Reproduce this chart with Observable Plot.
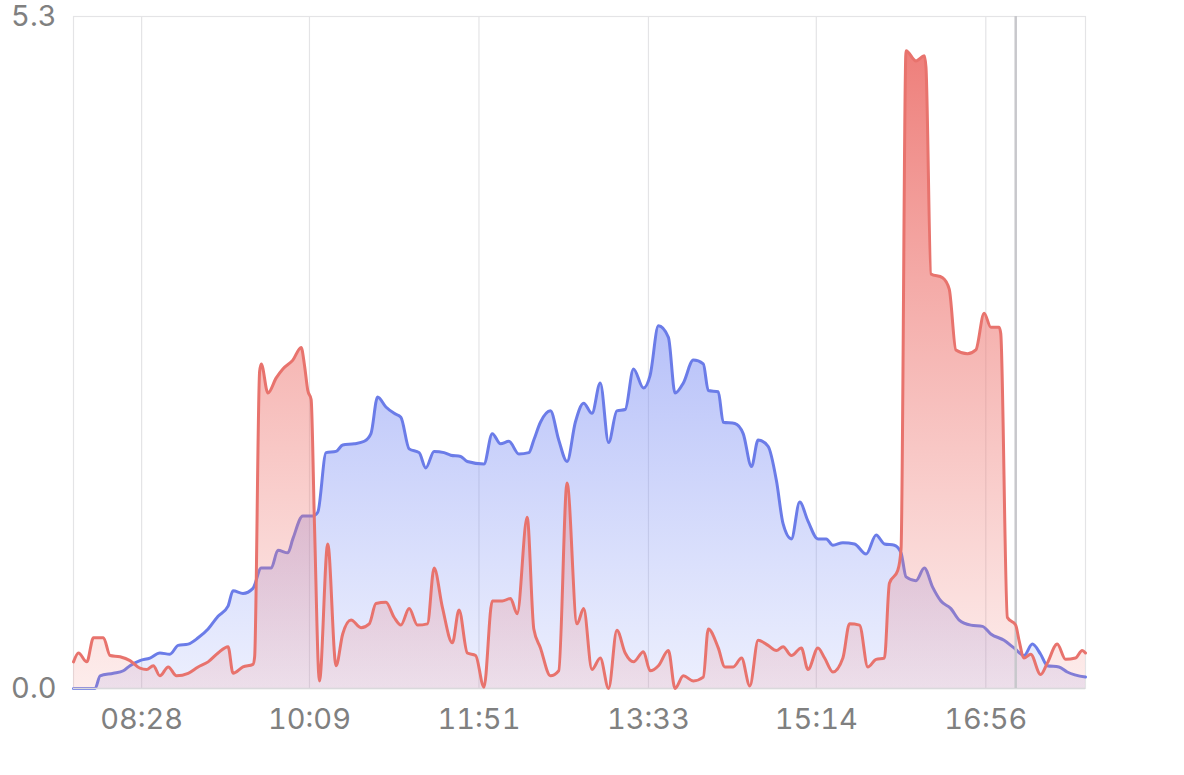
<!DOCTYPE html>
<html>
<head>
<meta charset="utf-8">
<script src="https://cdn.jsdelivr.net/npm/d3@7"></script>
<script src="https://cdn.jsdelivr.net/npm/@observablehq/plot@0.6"></script>
<style>
  html, body { margin: 0; padding: 0; background: #ffffff; }
  #chart { width: 1184px; height: 775px; }
</style>
</head>
<body>
<div id="chart"></div>
<script>
// ---- data ----
const blueTimes = ["07:47","08:00","08:03","08:11","08:17","08:21","08:27","08:33","08:39","08:45","08:50","08:56","09:02","09:08","09:14","09:20","09:23","09:29","09:35","09:40","09:46","09:50","09:56","09:59","10:05","10:11","10:14","10:19","10:25","10:29","10:36","10:42","10:46","10:50","10:55","11:00","11:04","11:09","11:15","11:19","11:24","11:30","11:34","11:40","11:44","11:54","11:59","12:04","12:09","12:15","12:21","12:24","12:28","12:34","12:39","12:44","12:49","12:54","12:59","13:04","13:09","13:14","13:19","13:24","13:30","13:34","13:39","13:45","13:49","13:54","14:00","14:06","14:09","14:15","14:18","14:25","14:30","14:35","14:39","14:45","14:50","14:54","14:59","15:04","15:09","15:15","15:20","15:24","15:30","15:37","15:44","15:50","15:55","16:01","16:05","16:08","16:14","16:19","16:24","16:29","16:35","16:40","16:47","16:54","16:59","17:07","17:13","17:19","17:24","17:29","17:33","17:40","17:45","17:56"];
const blueValues = [0,0,0.10,0.12,0.14,0.18,0.22,0.24,0.28,0.27,0.34,0.35,0.40,0.47,0.57,0.65,0.77,0.75,0.79,0.95,0.95,1.09,1.07,1.18,1.36,1.36,1.39,1.86,1.87,1.92,1.93,1.95,2.01,2.30,2.22,2.17,2.14,1.89,1.86,1.74,1.87,1.86,1.84,1.83,1.79,1.77,2.01,1.93,1.95,1.85,1.86,1.96,2.10,2.19,1.96,1.79,2.10,2.25,2.17,2.41,1.94,2.19,2.20,2.52,2.37,2.47,2.86,2.77,2.33,2.41,2.59,2.56,2.35,2.34,2.10,2.09,2.01,1.75,1.96,1.91,1.64,1.30,1.18,1.47,1.32,1.18,1.18,1.13,1.15,1.14,1.06,1.21,1.14,1.13,1.07,0.88,0.85,0.95,0.80,0.69,0.63,0.54,0.50,0.49,0.43,0.38,0.32,0.26,0.35,0.27,0.18,0.17,0.13,0.09];

const redTimes = ["07:47","07:50","07:55","07:59","08:05","08:09","08:15","08:21","08:27","08:31","08:35","08:39","08:44","08:49","08:56","09:02","09:08","09:14","09:20","09:23","09:29","09:35","09:36","09:39","09:40","09:44","09:49","09:53","09:59","10:04","10:06","10:08","10:10","10:12","10:15","10:20","10:25","10:29","10:34","10:40","10:45","10:49","10:55","11:00","11:04","11:09","11:14","11:20","11:24","11:29","11:35","11:39","11:44","11:49","11:54","11:59","12:05","12:10","12:14","12:20","12:24","12:28","12:34","12:39","12:44","12:50","12:54","12:59","13:04","13:09","13:14","13:19","13:24","13:30","13:34","13:39","13:45","13:49","13:54","14:00","14:06","14:09","14:15","14:19","14:24","14:29","14:34","14:39","14:45","14:50","14:54","14:59","15:05","15:09","15:15","15:19","15:24","15:30","15:34","15:40","15:45","15:50","15:55","15:58","16:03","16:05","16:08","16:14","16:19","16:20","16:23","16:30","16:34","16:38","16:45","16:50","16:55","16:59","17:04","17:05","17:09","17:14","17:16","17:19","17:23","17:29","17:33","17:39","17:44","17:50","17:54","17:56"];
const redValues = [0.21,0.28,0.21,0.40,0.40,0.26,0.25,0.22,0.16,0.15,0.18,0.10,0.17,0.10,0.12,0.17,0.21,0.28,0.33,0.12,0.17,0.19,0.25,2.50,2.56,2.33,2.45,2.52,2.59,2.69,2.55,2.35,2.28,1.30,0.06,1.14,0.18,0.43,0.54,0.48,0.51,0.67,0.68,0.56,0.50,0.63,0.50,0.51,0.95,0.64,0.36,0.62,0.28,0.26,0.01,0.69,0.69,0.71,0.59,1.35,0.47,0.32,0.10,0.14,1.62,0.51,0.63,0.15,0.24,0.00,0.46,0.28,0.21,0.29,0.14,0.18,0.30,0.00,0.10,0.06,0.09,0.47,0.32,0.17,0.17,0.24,0.02,0.38,0.34,0.30,0.33,0.26,0.32,0.15,0.32,0.24,0.13,0.24,0.51,0.50,0.17,0.23,0.24,0.83,0.93,1.10,5.03,4.95,4.99,4.90,3.27,3.24,3.15,2.67,2.64,2.67,2.96,2.85,2.85,2.80,0.56,0.50,0.38,0.24,0.27,0.11,0.20,0.35,0.23,0.24,0.30,0.28];

const xTickLabels = ["08:28","10:09","11:51","13:33","15:14","16:56"];
const xDomainLabels = ["07:47","17:56"];
const cursorTime = "17:14";
const yTicks = [0, 5.3];

// ---- build ----
const parseT = s => { const [h, m] = s.split(":").map(Number); return new Date(2024, 0, 1, h, m); };
const blue = blueTimes.map((t, i) => ({t: parseT(t), v: blueValues[i]}));
const red = redTimes.map((t, i) => ({t: parseT(t), v: redValues[i]}));
const xTicks = xTickLabels.map(parseT);
const fmt = d3.timeFormat("%H:%M");

const chart = Plot.plot({
  width: 1184,
  height: 775,
  marginLeft: 73,
  marginRight: 99,
  marginTop: 16,
  marginBottom: 87,
  style: {fontFamily: "Inter, 'Noto Sans', sans-serif", fontSize: "29px", color: "#808080", background: "#ffffff"},
  x: {type: "time", domain: xDomainLabels.map(parseT), label: null},
  y: {domain: [0, 5.3], label: null},
  marks: [
    Plot.ruleX(xTicks, {stroke: "#e4e4e6", strokeWidth: 1.2}),
    Plot.frame({stroke: "#e4e4e6", strokeWidth: 1.2}),
    Plot.areaY(blue, {x: "t", y: "v", curve: "monotone-x", fill: "url(#gBlue)"}),
    Plot.lineY(blue, {x: "t", y: "v", curve: "monotone-x", stroke: "#6b7ce8", strokeWidth: 3}),
    Plot.areaY(red, {x: "t", y: "v", curve: "monotone-x", fill: "url(#gRed)"}),
    Plot.ruleY([0], {stroke: "#d9d9dc", strokeWidth: 1.5}),
    Plot.ruleX([parseT(cursorTime)], {stroke: "#c8c8cc", strokeWidth: 2.5}),
    Plot.lineY(red, {x: "t", y: "v", curve: "monotone-x", stroke: "#e8736d", strokeWidth: 3}),
    Plot.axisX(xTicks, {tickFormat: fmt, tickSize: 0, tickPadding: 20, fill: "#808080", fontSize: 29, label: null}),
    Plot.axisY(yTicks, {tickFormat: d3.format(".1f"), tickSize: 0, tickPadding: 17, fill: "#808080", fontSize: 29, label: null})
  ]
});

d3.select(chart).insert("defs", ":first-child").html(`
  <linearGradient id="gBlue" gradientUnits="userSpaceOnUse" x1="0" y1="16" x2="0" y2="688">
    <stop offset="0" stop-color="rgb(95,115,238)" stop-opacity="0.78"/>
    <stop offset="1" stop-color="rgb(120,140,245)" stop-opacity="0.14"/>
  </linearGradient>
  <linearGradient id="gRed" gradientUnits="userSpaceOnUse" x1="0" y1="16" x2="0" y2="688">
    <stop offset="0" stop-color="rgb(235,105,100)" stop-opacity="0.9"/>
    <stop offset="1" stop-color="rgb(240,130,125)" stop-opacity="0.15"/>
  </linearGradient>
`);

document.getElementById("chart").appendChild(chart);
</script>
</body>
</html>
